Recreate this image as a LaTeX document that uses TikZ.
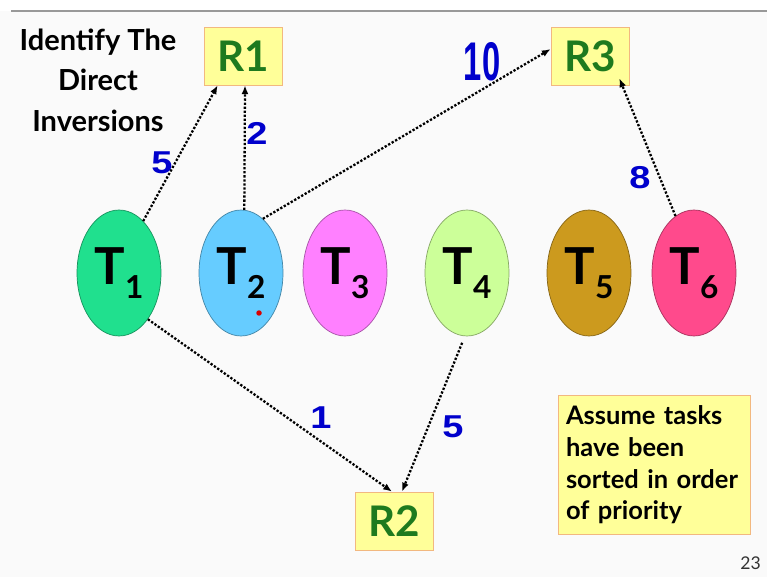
\documentclass[tikz,border=0pt]{standalone}
\usepackage{fontspec}
\setmainfont{Lato}
\newfontfamily\numfont{Liberation Sans}
\usepackage{xcolor}
\definecolor{colSlide}{HTML}{FAFAFA}
\definecolor{colRule}{HTML}{999999}
\definecolor{colNote}{HTML}{FFFF99}
\definecolor{colEdge}{HTML}{F2B880}
\definecolor{colRes}{HTML}{1E7A1E}
\definecolor{colNum}{HTML}{0000CC}
\definecolor{colTa}{HTML}{20E08E}
\definecolor{colTb}{HTML}{66CCFF}
\definecolor{colTc}{HTML}{FF80FF}
\definecolor{colTd}{HTML}{CCFF99}
\definecolor{colTe}{HTML}{CC9A1E}
\definecolor{colTf}{HTML}{FF4A8C}
\usetikzlibrary{arrows.meta, shapes.geometric, calc}

\newcommand{\tasklbl}[1]{T\raisebox{-8pt}{\fontsize{18}{18}\selectfont #1}}

\begin{document}
\begin{tikzpicture}[x=0.02cm, y=-0.02cm,
    task/.style={ellipse, draw=#1!65!black, fill=#1, line width=0.4pt,
        minimum width=1.68cm, minimum height=2.52cm, inner sep=0pt,
        font=\bfseries\fontsize{29}{29}\selectfont},
    res/.style={draw=colEdge, fill=colNote, minimum width=1.56cm, minimum height=1.16cm,
        inner sep=0pt, text=colRes, font=\bfseries\fontsize{24}{24}\selectfont},
    link/.style={densely dotted, line width=1.3pt, -{Latex[length=5pt,width=4pt]}},
    weight/.style={text=colNum, font=\numfont\bfseries\fontsize{18}{18}\selectfont}]
    % Slide background, 1 unit = 1 px
    \useasboundingbox (0,0) rectangle (767,577);
    \fill[white] (0,0) rectangle (767,11);
    \fill[colSlide] (0,11) rectangle (767,577);
    \draw[colRule, line width=1pt] (11,11) -- (767,11);
    % Title
    \node[align=center, font=\bfseries\fontsize{16.5}{23}\selectfont] (title) at (98,80)
        {Identify The\\Direct\\Inversions};
    % Resources
    \node[res] (r1) at (243,56) {R1};
    \node[res] (r3) at (590,56) {R3};
    \node[res] (r2) at (394,521) {R2};
    % Tasks
    \node[task=colTa] (t1) at (119,273) {\tasklbl{1}};
    \node[task=colTb] (t2) at (241,273) {\tasklbl{2}};
    \node[task=colTc] (t3) at (345,273) {\tasklbl{3}};
    \node[task=colTd] (t4) at (467,273) {\tasklbl{4}};
    \node[task=colTe] (t5) at (589,273) {\tasklbl{5}};
    \node[task=colTf] (t6) at (694,273) {\tasklbl{6}};
    \fill[red!85!black] (259,313) circle (0.055cm);
    % Requests
    \draw[link] (t1.65) -- ([xshift=0.28cm]r1.south west);
    \draw[link] (t2.87) -- ([xshift=0.04cm]r1.south);
    \draw[link] (t2.68) -- (r3.170);
    \draw[link] (t6.108) -- ([xshift=-0.2cm,yshift=0.14cm]r3.south east);
    \draw[link] (t1.-58) -- ([xshift=-0.04cm]r2.north);
    \draw[link, shorten <=4pt] (t4.-92) -- ([xshift=0.16cm]r2.north);
    % Weights
    \node[weight] (w1) at (162,163) {\scalebox{1.2}[1]{5}};
    \node[weight] (w2) at (257,133) {\scalebox{1.2}[1]{2}};
    \node[weight, font=\numfont\bfseries\fontsize{31}{31}\selectfont] (w3) at (482,62)
        {\scalebox{0.6}[1]{10}};
    \node[weight] (w4) at (640,178) {\scalebox{1.2}[1]{8}};
    \node[weight] (w5) at (321,418) {\scalebox{1.2}[1]{1}};
    \node[weight] (w6) at (453,427) {\scalebox{1.2}[1]{5}};
    % Note
    \node[draw=colEdge, fill=colNote, minimum width=3.84cm, minimum height=2.78cm,
        text width=3.52cm, align=left, inner sep=0.16cm,
        font=\bfseries\fontsize{14.5}{18}\selectfont] (note) at (654,465)
        {Assume tasks\\have been\\sorted in order\\of priority};
    % Page number
    \node[anchor=east, font=\fontsize{10}{10}\selectfont, text=black!80] (page) at (767,563) {23};
\end{tikzpicture}
\end{document}
